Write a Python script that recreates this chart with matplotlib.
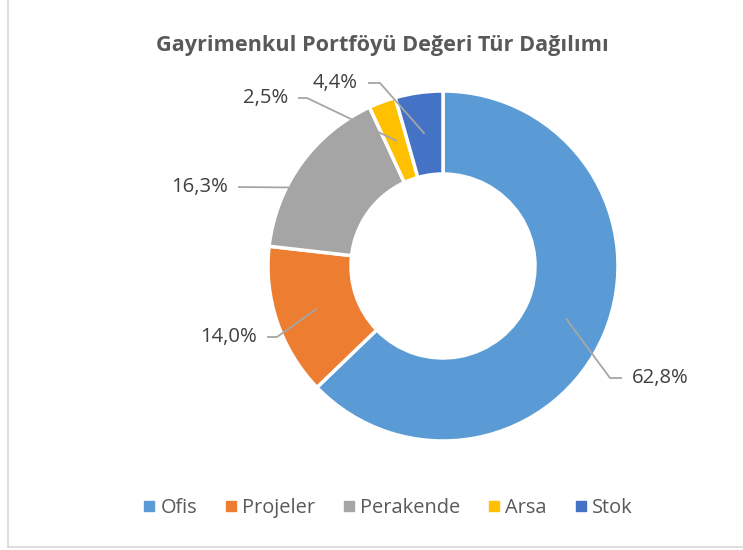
import numpy as np
import matplotlib.pyplot as plt
from matplotlib.lines import Line2D

plt.rcParams['font.family'] = ['Open Sans', 'DejaVu Sans']

categories = ["Ofis", "Projeler", "Perakende", "Arsa", "Stok"]
shares = [62.8, 14.0, 16.3, 2.5, 4.4]
labels = ["62,8%", "14,0%", "16,3%", "2,5%", "4,4%"]
colors = ["#5B9BD5", "#ED7D31", "#A5A5A5", "#FFC000", "#4472C4"]

W, H = 743, 550
CX, CY = 443, H - 266
R_OUT, R_IN = 175, 92

# label layout in pixels: (text x, text y, ha, elbow x)
label_layout = [
    (632, 378, "left", 610),
    (257, 337, "right", 277),
    (228, 187, "right", 238),
    (288, 98, "right", 307),
    (358, 83, "right", 380),
]

fig = plt.figure(figsize=(W / 100, H / 100), dpi=100)
ax = fig.add_axes([0, 0, 1, 1])
wedges, _ = ax.pie(shares, colors=colors, startangle=90, counterclock=False,
                   center=(CX, CY), radius=R_OUT,
                   wedgeprops=dict(width=R_OUT - R_IN, edgecolor="white", linewidth=2.5))
ax.set_xlim(0, W)
ax.set_ylim(0, H)
ax.set_aspect("equal")
ax.axis("off")

r_mid = (R_OUT + R_IN) / 2
for w, lab, (tx, ty, ha, ex) in zip(wedges, labels, label_layout):
    ang = np.deg2rad((w.theta1 + w.theta2) / 2)
    axp = CX + r_mid * np.cos(ang)
    ayp = CY + r_mid * np.sin(ang)
    ty = H - ty
    hx = tx - 10 if ha == "left" else tx + 10
    ax.plot([axp, ex, hx], [ayp, ty, ty], color="#A6A6A6", lw=1.3,
            solid_capstyle="butt", zorder=5)
    ax.text(tx, ty, lab, ha=ha, va="center", fontsize=14.6, color="#404040")

# border lines (left and bottom)
ax.plot([8, 8], [H - 547, H], color="#D9D9D9", lw=1.2)
ax.plot([8, W], [H - 547, H - 547], color="#D9D9D9", lw=1.2)

fig.text(382 / W, 1 - 45 / H, "Gayrimenkul Portföyü Değeri Tür Dağılımı",
         ha="center", va="center", fontsize=15.6, fontweight="bold", color="#595959")

handles = [Line2D([], [], marker="s", ls="", color=c, markersize=7.5) for c in colors]
fig.legend(handles, categories, loc="center", bbox_to_anchor=(387 / W, 1 - 508 / H),
           ncol=5, frameon=False, fontsize=14.4, labelcolor="#595959",
           handletextpad=0.15, columnspacing=1.3, handlelength=0.8)

fig.savefig("out.png", dpi=100)
